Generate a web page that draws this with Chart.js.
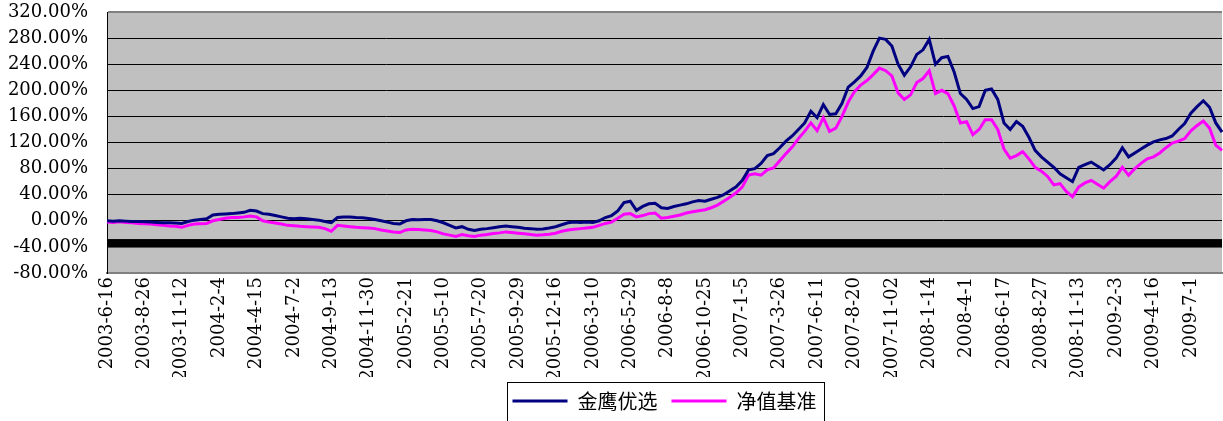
<!DOCTYPE html>
<html>
<head>
<meta charset="utf-8">
<title>金鹰优选 净值走势</title>
<script src="https://cdn.jsdelivr.net/npm/chart.js"></script>
<style>
  html, body { margin: 0; padding: 0; background: #fff; }
  #wrap { width: 1223px; height: 421px; }
</style>
</head>
<body>
<div id="wrap"><canvas id="lineChart"></canvas></div>
<script>
// tick labels shown on the x axis, one every 6 points
const tickLabels = [
  '2003-6-16', '2003-8-26', '2003-11-12', '2004-2-4', '2004-4-15', '2004-7-2',
  '2004-9-13', '2004-11-30', '2005-2-21', '2005-5-10', '2005-7-20', '2005-9-29',
  '2005-12-16', '2006-3-10', '2006-5-29', '2006-8-8', '2006-10-25', '2007-1-5',
  '2007-3-26', '2007-6-11', '2007-8-20', '2007-11-02', '2008-1-14', '2008-4-1',
  '2008-6-17', '2008-8-27', '2008-11-13', '2009-2-3', '2009-4-16', '2009-7-1'
];
const perTick = 6;

// 金鹰优选 cumulative return, %
const fundValues = [
  0, -0.5, 0, -0.5, -1, -1, -1.5, -2, -2.5, -3, -3, -3.5,
  -4, -1, 1, 2, 3, 9, 10, 10.5, 11, 12, 13, 16,
  15, 11, 10, 8, 6, 4, 3, 4, 3, 2, 1, -1,
  -3, 5, 6, 6, 5, 4.5, 3.5, 2, 0, -2, -4, -5,
  0, 2, 1.5, 2, 2, 0, -3, -7, -11, -9, -13, -15,
  -13, -12, -10.5, -9, -8, -9, -10, -11.5, -12, -13, -12.5, -11,
  -9, -6, -3, -2, -2.5, -2, -2.5, 0, 5, 8, 15, 28,
  30, 16, 22, 26, 27, 20, 19, 22, 24, 26, 29, 31,
  30, 33, 36, 40, 46, 52, 62, 78, 80, 88, 100, 103,
  112, 122, 130, 140, 150, 168, 158, 178, 163, 164, 180, 205,
  213, 222, 235, 260, 280, 278, 268, 240, 223, 236, 255, 262,
  278, 240, 250, 252, 228, 195, 186, 172, 175, 200, 202, 186,
  150, 140, 152, 145, 128, 108, 98, 90, 82, 72, 66, 60,
  82, 86, 90, 84, 78, 86, 96, 112, 98, 104, 110, 116,
  121, 124, 126, 130, 140, 149, 165, 175, 184, 174, 150, 136
];

// 净值基准 cumulative return, %
const benchValues = [
  -2, -2.5, -1.5, -2.5, -3, -4, -4.5, -5, -6, -7, -8, -8.5,
  -10, -7, -5, -4.5, -4, 0, 2, 4, 5, 5, 6, 7.5,
  6, 0, -2, -3.5, -5, -7, -7.5, -8.5, -9, -9.5, -10, -12,
  -16, -7, -8, -9, -10, -10.5, -11, -12, -14, -15.5, -17, -18,
  -14, -13, -13.5, -14, -15, -17, -20, -22, -24, -21, -23, -24,
  -22, -21, -19.5, -18.5, -17, -18, -19, -20, -21, -22, -21.5, -20.5,
  -19, -16, -14, -13, -12, -11, -10, -7, -4, -2, 4, 10,
  11, 6, 8, 11, 12, 4, 5, 7, 9, 12, 14, 15.5,
  17, 20, 24, 30, 36, 43, 52, 70, 72, 70, 78, 81,
  92, 103, 113, 126, 137, 150, 138, 158, 137, 142, 160, 182,
  198, 208, 215, 224, 234, 230, 222, 196, 186, 193, 212, 218,
  230, 195, 200, 195, 176, 150, 152, 132, 140, 155, 155, 140,
  110, 96, 100, 106, 95, 82, 76, 68, 55, 57, 45, 37,
  52, 58, 62, 56, 50, 60, 68, 82, 70, 80, 88, 95,
  98, 104, 112, 119, 122, 126, 138, 146, 153, 142, 116, 108
];

// thick black band drawn across the plot, in % of the y axis
const bandTop = -28;
const bandBottom = -41;

const yMin = -80, yMax = 320, yStep = 40;

const dates = fundValues.map((v, i) => i % perTick === 0 ? tickLabels[i / perTick] : '');

const serif = "'DejaVu Serif', 'Liberation Serif', serif";
const legendFont = { family: "'Noto Sans CJK SC', sans-serif", size: 20 };
const legendLine = 55;

// grey plot background, black band and the legend frame
const chartDecor = {
  id: 'chartDecor',
  beforeDraw(chart) {
    const { ctx, chartArea: a } = chart;
    ctx.save();
    ctx.fillStyle = '#c0c0c0';
    ctx.fillRect(a.left, a.top, a.right - a.left, a.bottom - a.top);
    ctx.restore();
  },
  beforeDatasetsDraw(chart) {
    const { ctx, chartArea: a, scales: { y } } = chart;
    const t = y.getPixelForValue(bandTop);
    const b = y.getPixelForValue(bandBottom);
    ctx.save();
    ctx.fillStyle = '#000';
    ctx.fillRect(a.left, t, a.right - a.left, b - t);
    ctx.restore();
  },
  afterDraw(chart) {
    const { ctx } = chart;
    const boxes = chart.legend.legendHitBoxes;
    if (!boxes || !boxes.length) return;
    const first = boxes[0];
    const last = boxes[boxes.length - 1];
    ctx.save();
    ctx.font = legendFont.size + 'px ' + legendFont.family;
    const lastText = chart.data.datasets[boxes.length - 1].label;
    const textW = ctx.measureText(lastText).width;
    const l = Math.round(first.left - 6) + 0.5;
    const r = Math.round(last.left + legendLine + legendFont.size / 2 + textW + 8) + 0.5;
    const t = Math.round(first.top + first.height / 2 - 19) + 0.5;
    ctx.strokeStyle = '#000';
    ctx.lineWidth = 1;
    ctx.strokeRect(l, t, r - l, chart.height - t + 5);
    ctx.restore();
  }
};

new Chart(document.getElementById('lineChart'), {
  type: 'line',
  data: {
    labels: dates,
    datasets: [{
      label: '金鹰优选',
      data: fundValues,
      borderColor: '#000080',
      backgroundColor: '#000080',
      borderWidth: 3,
      pointRadius: 0,
      fill: false
    }, {
      label: '净值基准',
      data: benchValues,
      borderColor: '#ff00ff',
      backgroundColor: '#ff00ff',
      borderWidth: 3,
      pointRadius: 0,
      fill: false
    }]
  },
  options: {
    responsive: true,
    maintainAspectRatio: false,
    animation: false,
    layout: { padding: { top: 12, left: 0, right: 1, bottom: 0 } },
    plugins: {
      tooltip: { enabled: false },
      legend: {
        position: 'bottom',
        fullSize: false,
        labels: {
          usePointStyle: true,
          pointStyle: 'line',
          pointStyleWidth: legendLine,
          padding: 14,
          color: '#000',
          font: legendFont
        }
      }
    },
    scales: {
      x: {
        offset: false,
        afterFit: s => { s.height = 104; s.paddingLeft = 0; s.paddingRight = 0; },
        grid: { display: false, drawTicks: false },
        border: { display: true, color: '#808080', width: 2 },
        ticks: {
          autoSkip: false,
          minRotation: 90,
          maxRotation: 90,
          padding: 4,
          color: '#000',
          font: { family: serif, size: 18 }
        }
      },
      y: {
        min: yMin,
        max: yMax,
        afterFit: s => { s.width = 107; s.paddingTop = 0; s.paddingBottom = 0; },
        border: { display: true, color: '#000', width: 1 },
        grid: {
          drawTicks: false,
          color: c => (c.tick && (c.tick.value === yMax || c.tick.value === yMin)) ? '#808080' : '#000',
          lineWidth: c => (c.tick && (c.tick.value === yMax || c.tick.value === yMin)) ? 2 : 1
        },
        ticks: {
          stepSize: yStep,
          padding: 19,
          color: '#000',
          font: { family: serif, size: 18 },
          callback: v => v.toFixed(2) + '%'
        }
      }
    }
  },
  plugins: [chartDecor]
});
</script>
</body>
</html>
